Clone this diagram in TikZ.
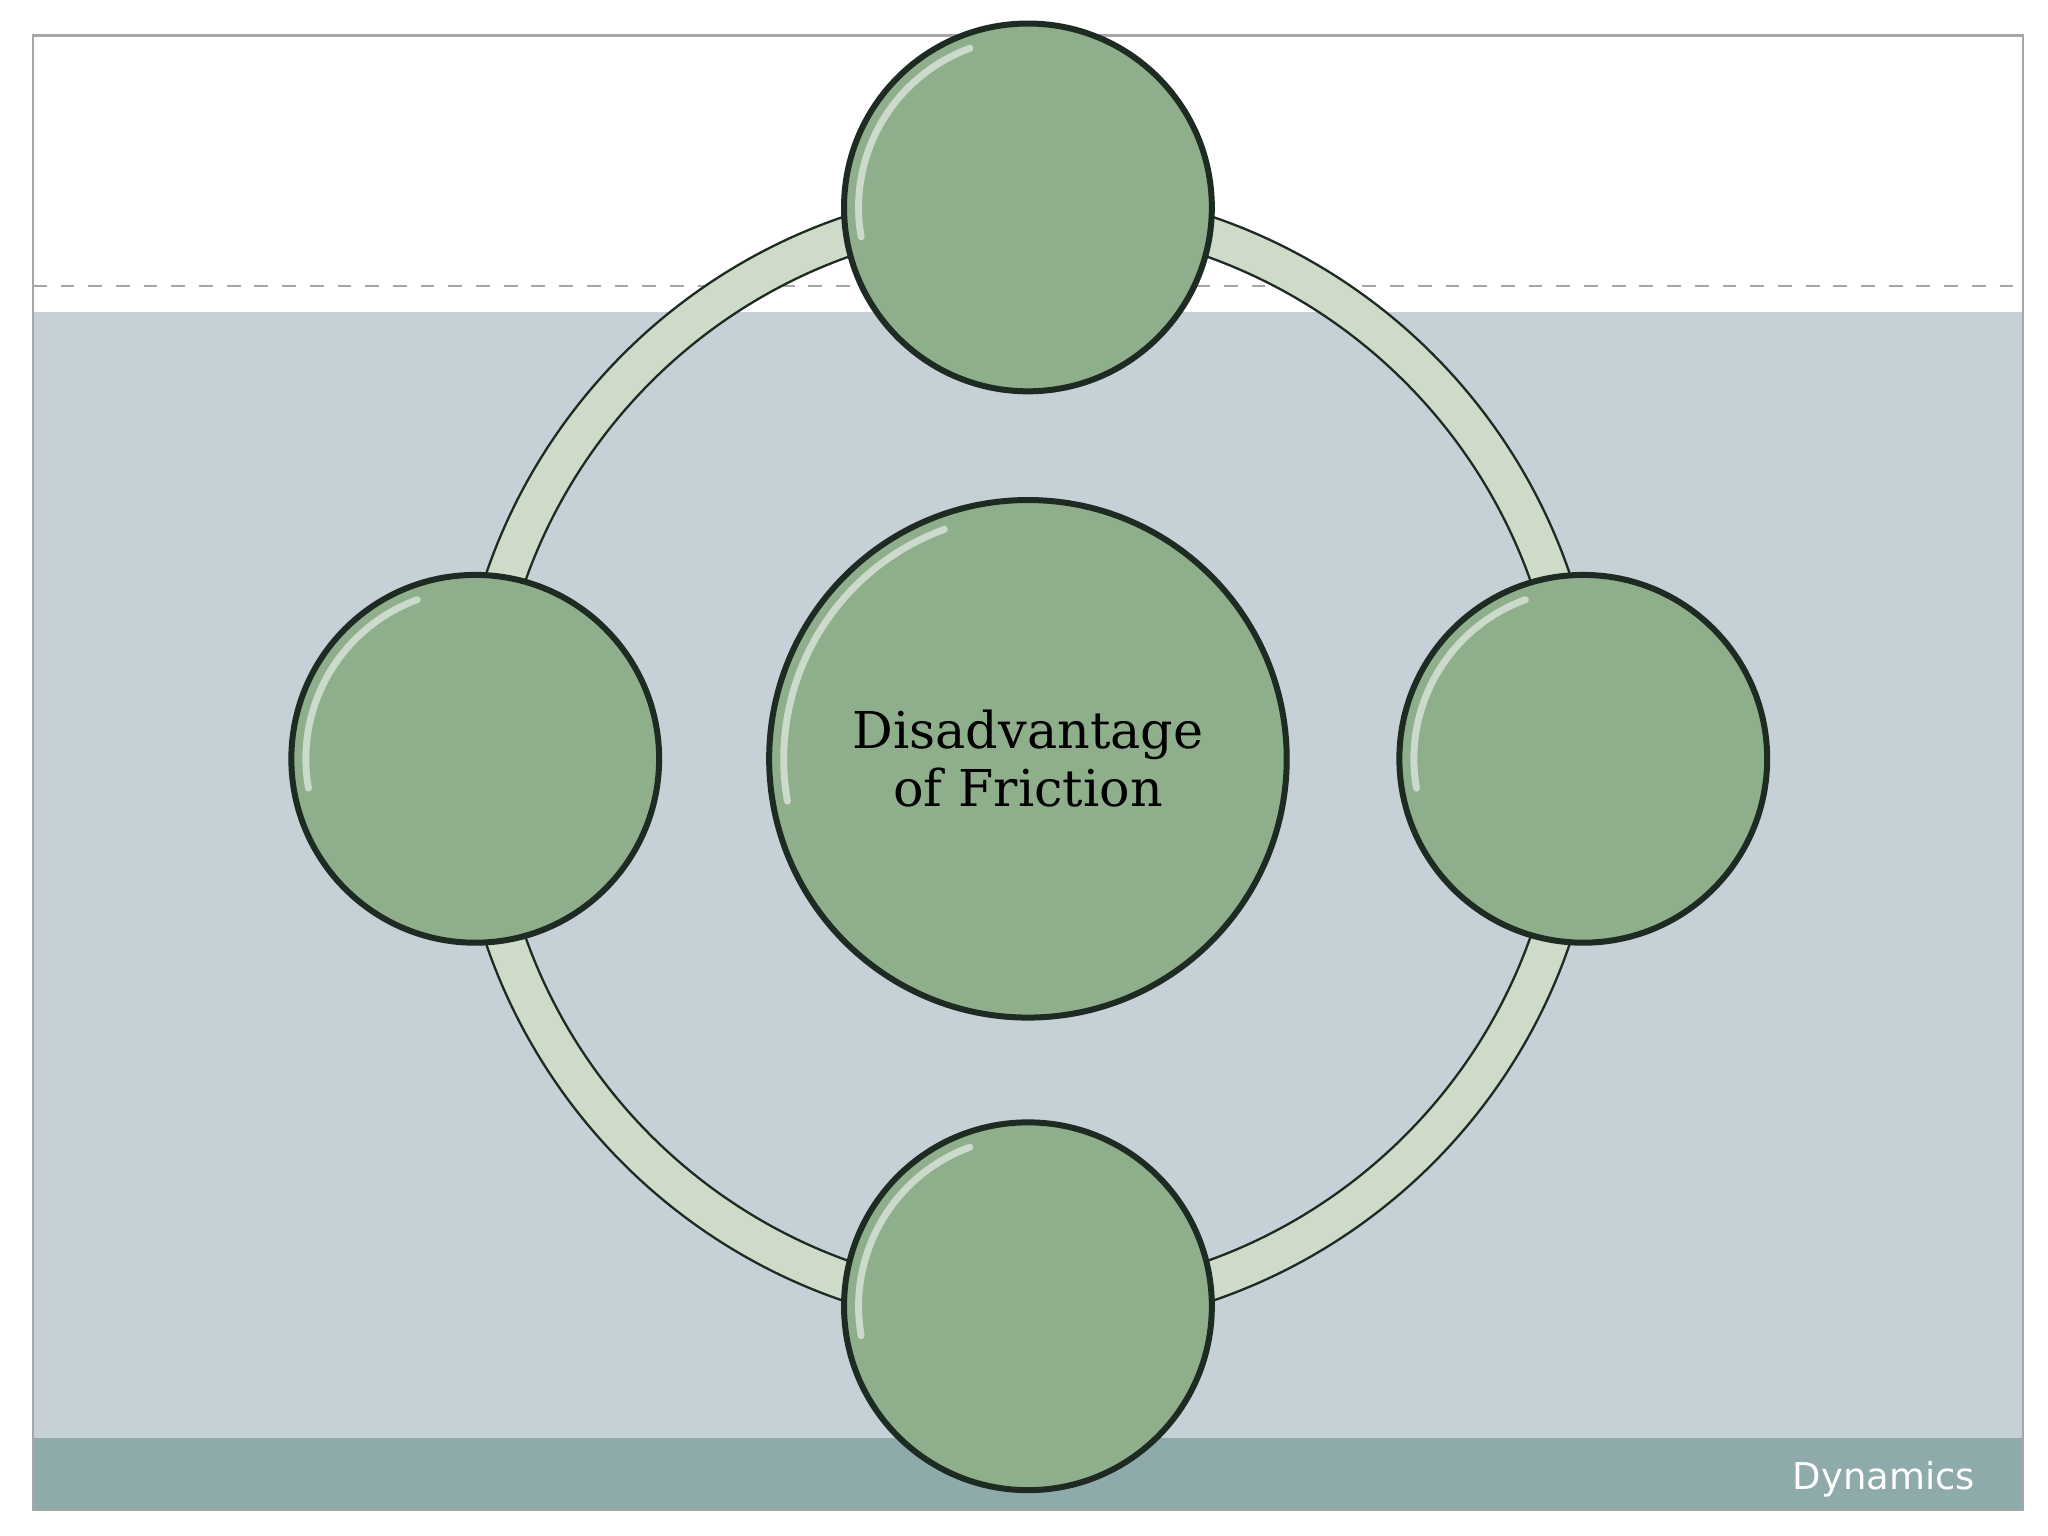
\documentclass[tikz,border=0pt]{standalone}
\usepackage{fontspec}
\newfontfamily\dejasans{DejaVu Sans}
\newfontfamily\dejaserif{DejaVu Serif}
\definecolor{bgblue}{HTML}{C5D1D6}
\definecolor{band}{HTML}{8FAAAB}
\definecolor{ringc}{HTML}{CEDBC9}
\definecolor{ballc}{HTML}{8FAF8C}
\definecolor{edgec}{HTML}{1E2B22}
\begin{document}
\begin{tikzpicture}[x=0.01cm,y=-0.01cm,
  ball/.style={circle,fill=ballc,draw=edgec,line width=1.3pt,inner sep=0pt},
  shine/.style={draw=white,opacity=0.55,line width=1.5pt,line cap=round}]
\useasboundingbox (0,0) rectangle (1560,1170);
\fill[white] (0,0) rectangle (1560,1170);
\fill[bgblue] (25,238) rectangle (1541,1095);
\fill[band] (25,1095) rectangle (1541,1150);
\draw[gray!70,dashed] (25,218) -- (1541,218);
\draw[gray!70,line width=0.5pt] (25,27) rectangle (1541,1150);
% ring
\draw[ringc,line width=0.3cm] (783,578) circle[radius=421];
\draw[edgec,line width=0.5pt] (783,578) circle[radius=406];
\draw[edgec,line width=0.5pt] (783,578) circle[radius=436];
% balls
\node[ball,minimum size=3.94cm] (c) at (783,578) {};
\node[ball,minimum size=2.8cm] (t) at (783,158) {};
\node[ball,minimum size=2.8cm] (l) at (362,578) {};
\node[ball,minimum size=2.8cm] (r) at (1206,578) {};
\node[ball,minimum size=2.8cm] (b) at (783,995) {};
\foreach \n/\rr in {c/186,t/129,l/129,r/129,b/129}
  \draw[shine] (\n.center) ++(170:\rr) arc[start angle=170,end angle=250,radius=\rr];
\node[align=center,font=\dejaserif\fontsize{11}{12.6}\selectfont] at (c.center) {Disadvantage\\of Friction};
\node[font=\dejasans\fontsize{8}{9}\selectfont,text=white] (dyn) at (1435,1127) {Dynamics};
\end{tikzpicture}
\end{document}
